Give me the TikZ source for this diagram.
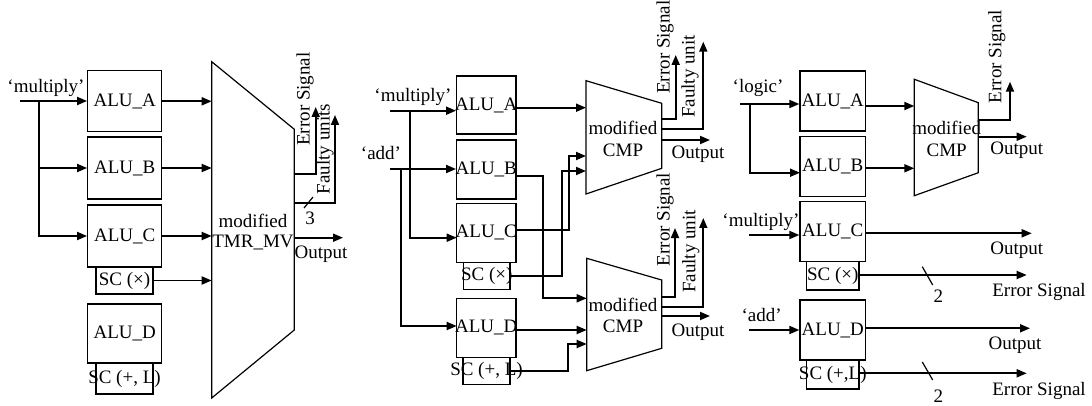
\documentclass[tikz,border=0pt]{standalone}
\usepackage{fontspec}
\setmainfont{Liberation Serif}
\usetikzlibrary{arrows.meta}
\newcommand{\ztext}[1]{\makebox[0pt]{#1}}
\begin{document}
\begin{tikzpicture}[x=1pt,y=-1pt,
  every node/.style={font=\fontsize{19}{22}\selectfont, inner sep=0pt},
  box/.style={draw, line width=1.2pt},
  arr/.style={line width=1.8pt, -{Triangle[length=10pt,width=8pt]}},
  wire/.style={line width=1.2pt},
  trap/.style={draw, line width=1.2pt},
]
\useasboundingbox (0,0) rectangle (1092,406);

%% ---------------- Panel 1 ----------------
\node[box,minimum width=74,minimum height=61] (A1) at (124.7,101.3) {\ztext{ALU\_A}};
\node[box,minimum width=74,minimum height=62] (B1) at (124.7,168) {\ztext{ALU\_B}};
\node[box,minimum width=74,minimum height=62] (C1) at (124.7,236) {\ztext{ALU\_C}};
\node[box,minimum width=57,minimum height=27] (SCx1) at (124.5,280.5) {\ztext{SC (×)}};
\node[box,minimum width=74,minimum height=59] (D1) at (124.7,333.5) {\ztext{ALU\_D}};
\node[box,minimum width=57,minimum height=31] (SCp1) at (124.5,378.5) {\ztext{SC (+, L)}};

\node (lm1) at (46,88) {‘multiply’};
\coordinate (m1) at (20,101);
\coordinate (j1) at (39.3,101);
\draw[arr] (m1) -- (m1 -| A1.west);
\draw[arr] (j1) |- (B1.west);
\draw[arr] (j1) |- (C1.west);

\coordinate (T1a) at (211.7,61.7);
\coordinate (T1b) at (294.3,129.3);
\coordinate (T1c) at (294.3,330);
\coordinate (T1d) at (211.7,398);
\draw[trap] (T1a) -- (T1b) -- (T1c) -- (T1d) -- cycle;
\node (t1m) at (253,221) {modified};
\node (t1t) at (253,243) {TMR\_MV};

\draw[arr] (A1.east) -- (A1.east -| T1a);
\draw[arr] (B1.east) -- (B1.east -| T1a);
\draw[arr] (C1.east) -- (C1.east -| T1a);
\draw[arr] (SCx1.east) -- (SCx1.east -| T1a);

\coordinate (o1) at (294.3,237.7);
\coordinate (o1e) at (343,237.7);
\draw[arr] (o1) -- (o1e);
\node (lo1) at (321,254) {Output};

\coordinate (e1) at (294.3,174);
\coordinate (e1t) at (315.7,107);
\draw[arr] (e1) -| (e1t);
\coordinate (f1) at (294.3,203.3);
\coordinate (f1t) at (335,115);
\draw[arr] (f1) -| (f1t);
\node[rotate=90] (le1) at (305,99) {Error Signal};
\node[rotate=90] (lf1) at (325,149) {Faulty units};
\coordinate (s1a) at (304,208);
\coordinate (s1b) at (313,197);
\draw[wire] (s1a) -- (s1b);
\node (n3) at (310,218) {3};

%% ---------------- Panel 2 ----------------
\node[box,minimum width=59.3,minimum height=58] (A2) at (486.3,105) {\ztext{ALU\_A}};
\node[box,minimum width=59.3,minimum height=59] (B2) at (486.3,169.5) {\ztext{ALU\_B}};
\node[box,minimum width=59.3,minimum height=59] (C2) at (486.3,232.8) {\ztext{ALU\_C}};
\node[box,minimum width=46.7,minimum height=27] (SCx2) at (486.7,275.8) {\ztext{SC (×)}};
\node[box,minimum width=59.3,minimum height=59] (D2) at (486.3,327.8) {\ztext{ALU\_D}};
\node[box,minimum width=47,minimum height=27] (SCp2) at (486.5,370.8) {\ztext{SC (+, L)}};

\node (lm2) at (413,96.7) {‘multiply’};
\node (la2) at (381,153) {‘add’};
\coordinate (m2) at (390,110.7);
\coordinate (j2m) at (410,110.7);
\coordinate (c2in) at (456.7,237.7);
\draw[arr] (m2) -- (m2 -| A2.west);
\draw[arr] (j2m) |- (c2in);
\coordinate (a2) at (390,169);
\coordinate (j2a) at (400.7,169);
\coordinate (d2in) at (456.7,326);
\draw[arr] (a2) -- (a2 -| B2.west);
\draw[arr] (j2a) |- (d2in);

% upper CMP
\coordinate (U2a) at (586,80.7);
\coordinate (U2b) at (661.7,103.3);
\coordinate (U2c) at (661.7,168.3);
\coordinate (U2d) at (586,194);
\draw[trap] (U2a) -- (U2b) -- (U2c) -- (U2d) -- cycle;
\node (u2m) at (623,127.7) {modified};
\node (u2c) at (623,150.7) {CMP};
% lower CMP
\coordinate (L2a) at (586.7,258.3);
\coordinate (L2b) at (661.7,280);
\coordinate (L2c) at (661.7,348.3);
\coordinate (L2d) at (586.7,370.7);
\draw[trap] (L2a) -- (L2b) -- (L2c) -- (L2d) -- cycle;
\node (l2m) at (623,305) {modified};
\node (l2c) at (623,326.7) {CMP};

\coordinate (u2i1) at (586,107.7);
\draw[arr] (A2.east |- u2i1) -- (u2i1);
\coordinate (u2i2) at (586,156);
\coordinate (k1) at (569.3,230);
\draw[arr] (C2.east |- k1) -- (k1) |- (u2i2);
\coordinate (u2i3) at (586,171);
\coordinate (k2) at (561.7,276);
\draw[arr] (SCx2.east |- k2) -- (k2) |- (u2i3);
\coordinate (l2i1) at (586.7,298.3);
\coordinate (k3) at (543.3,175.7);
\draw[arr] (B2.east |- k3) -- (k3) |- (l2i1);
\coordinate (l2i2) at (586.7,330);
\draw[arr] (D2.east |- l2i2) -- (l2i2);
\coordinate (l2i3) at (586.7,344);
\coordinate (k4) at (568.3,370.7);
\draw[arr] (SCp2.east |- k4) -- (k4) |- (l2i3);

% upper outputs
\coordinate (u2e) at (661.7,119);
\coordinate (u2et) at (675.7,55);
\draw[arr] (u2e) -| (u2et);
\coordinate (u2f) at (661.7,129);
\coordinate (u2ft) at (703.3,41.7);
\draw[arr] (u2f) -| (u2ft);
\coordinate (u2o) at (661.7,140);
\coordinate (u2oe) at (710,140);
\draw[arr] (u2o) -- (u2oe);
\node[rotate=90] (lue2) at (665,47) {Error Signal};
\node[rotate=90] (luf2) at (690,76.5) {Faulty unit};
\node (luo2) at (698,154.3) {Output};
% lower outputs
\coordinate (l2e) at (661.7,296.7);
\coordinate (l2et) at (675,228);
\draw[arr] (l2e) -| (l2et);
\coordinate (l2f) at (661.7,306.7);
\coordinate (l2ft) at (703.3,218);
\draw[arr] (l2f) -| (l2ft);
\coordinate (l2o) at (661.7,316);
\coordinate (l2oe) at (710,316);
\draw[arr] (l2o) -- (l2oe);
\node[rotate=90] (lle2) at (665,219.5) {Error Signal};
\node[rotate=90] (llf2) at (690.7,251.5) {Faulty unit};
\node (llo2) at (698,332) {Output};

%% ---------------- Panel 3 ----------------
\node[box,minimum width=65.7,minimum height=60] (A3) at (832.8,101) {\ztext{ALU\_A}};
\node[box,minimum width=65.7,minimum height=60] (B3) at (832.8,166.7) {\ztext{ALU\_B}};
\node[box,minimum width=65.7,minimum height=60] (C3) at (832.8,231.7) {\ztext{ALU\_C}};
\node[box,minimum width=52.3,minimum height=28.3] (SCx3) at (832.8,275.8) {\ztext{SC (×)}};
\node[box,minimum width=65.7,minimum height=60] (D3) at (832.8,330) {\ztext{ALU\_D}};
\node[box,minimum width=52.3,minimum height=29] (SCp3) at (832.8,374.5) {\ztext{SC (+,L)}};

\node (ll3) at (758,88) {‘logic’};
\coordinate (lg) at (740,104);
\coordinate (j3) at (750,104);
\coordinate (b3in) at (800,172.7);
\draw[arr] (lg) -- (lg -| A3.west);
\draw[arr] (j3) |- (b3in);

\coordinate (C3a) at (914.3,79.3);
\coordinate (C3b) at (978.3,102.7);
\coordinate (C3c) at (978.3,172.7);
\coordinate (C3d) at (914.3,195.7);
\draw[trap] (C3a) -- (C3b) -- (C3c) -- (C3d) -- cycle;
\node (c3m) at (946.7,127.7) {modified};
\node (c3c) at (946.7,150) {CMP};

\coordinate (c3i1) at (914.3,106);
\coordinate (c3i2) at (914.3,168.3);
\draw[arr] (A3.east |- c3i1) -- (c3i1);
\draw[arr] (B3.east |- c3i2) -- (c3i2);

\coordinate (c3e) at (978.3,120);
\coordinate (c3et) at (1010,81.7);
\draw[arr] (c3e) -| (c3et);
\node[rotate=90] (le3) at (996.7,56.5) {Error Signal};
\coordinate (c3o) at (978.3,136.7);
\coordinate (c3oe) at (1026.7,136.7);
\draw[arr] (c3o) -- (c3oe);
\node (lo3) at (1016.7,150) {Output};

\node (lm3) at (761,221.7) {‘multiply’};
\coordinate (m3) at (749,235);
\draw[arr] (m3) -- (m3 -| C3.west);
\coordinate (co3) at (1031.7,233.3);
\draw[arr] (C3.east |- co3) -- (co3);
\node (lco3) at (1016.7,250) {Output};
\coordinate (so3) at (1026.7,275);
\draw[arr] (SCx3.east |- so3) -- (so3);
\coordinate (s3a) at (922.3,266.7);
\coordinate (s3b) at (932.7,285);
\draw[wire] (s3a) -- (s3b);
\node (n2a) at (938.3,296.7) {2};
\node (lse3) at (1039,291.7) {Error Signal};

\node (la3) at (761.7,315) {‘add’};
\coordinate (a3) at (749,330);
\draw[arr] (a3) -- (a3 -| D3.west);
\coordinate (do3) at (1030,328.3);
\draw[arr] (D3.east |- do3) -- (do3);
\node (ldo3) at (1015,345) {Output};
\coordinate (po3) at (1026.7,373.3);
\draw[arr] (SCp3.east |- po3) -- (po3);
\coordinate (s4a) at (922.3,362);
\coordinate (s4b) at (932.7,380);
\draw[wire] (s4a) -- (s4b);
\node (n2b) at (938.3,396) {2};
\node (lpe3) at (1039,391) {Error Signal};
\end{tikzpicture}
\end{document}
